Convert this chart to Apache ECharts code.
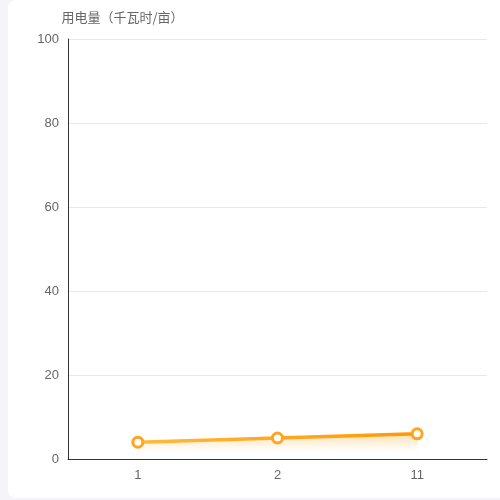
<!DOCTYPE html>
<html>
<head>
<meta charset="utf-8">
<script src="https://cdn.jsdelivr.net/npm/echarts@6/dist/echarts.min.js"></script>
<style>
html,body{margin:0;padding:0;width:500px;height:500px;overflow:hidden;background:#f4f4f9;}
#card{position:absolute;left:8px;top:0;width:520px;height:498px;background:#fff;border-radius:8px;}
#main{position:absolute;left:0;top:0;width:500px;height:500px;}
</style>
</head>
<body>
<div id="card"></div>
<div id="main"></div>
<script>
var categories = ['1', '2', '11'];
var values = [4, 5, 6];
var yAxisName = '用电量（千瓦时/亩）';

var chart = echarts.init(document.getElementById('main'), null, {renderer: 'canvas'});
chart.setOption({
  backgroundColor: 'transparent',
  grid: {left: 68, right: 13, top: 39, bottom: 41},
  xAxis: {
    type: 'category',
    data: categories,
    boundaryGap: true,
    axisLine: {show: true, lineStyle: {color: '#333', width: 1}},
    axisTick: {show: false},
    axisLabel: {color: '#666', fontSize: 13, margin: 10, fontFamily: 'Liberation Sans'}
  },
  yAxis: {
    type: 'value',
    min: 0, max: 100, interval: 20,
    name: yAxisName,
    nameGap: 15,
    nameTextStyle: {color: '#666', fontSize: 13, align: 'center', padding: [0, 0, 0, 109], fontFamily: 'Noto Sans CJK SC'},
    axisLine: {show: true, lineStyle: {color: '#333', width: 1}},
    axisTick: {show: false},
    axisLabel: {color: '#666', fontSize: 13, margin: 9, fontFamily: 'Liberation Sans'},
    splitLine: {show: true, lineStyle: {color: '#e8e8e8', width: 1}}
  },
  series: [{
    type: 'line',
    data: values,
    symbol: 'circle',
    symbolSize: 10,
    itemStyle: {color: '#fff', borderColor: '#FFA41C', borderWidth: 3},
    lineStyle: {
      width: 3.5,
      color: new echarts.graphic.LinearGradient(0, 0, 1, 0, [
        {offset: 0, color: '#FFBA3E'},
        {offset: 1, color: '#FF9800'}
      ])
    },
    areaStyle: {
      color: new echarts.graphic.LinearGradient(0, 0, 0, 1, [
        {offset: 0, color: 'rgba(255,170,40,0.5)'},
        {offset: 0.5, color: 'rgba(255,170,40,0.12)'},
        {offset: 0.75, color: 'rgba(255,170,40,0)'},
        {offset: 1, color: 'rgba(255,170,40,0)'}
      ])
    }
  }]
});
</script>
</body>
</html>
